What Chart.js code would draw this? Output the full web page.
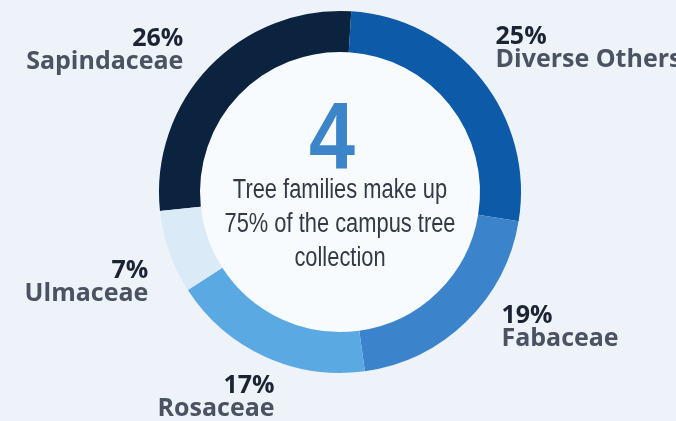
<!DOCTYPE html>
<html lang="en">
<head>
  <meta charset="UTF-8">
  <title>Campus Tree Families</title>
  <script src="https://cdn.jsdelivr.net/npm/chart.js"></script>
  <style>
    body {
      margin: 0;
      background-color: #eef3f9;
      overflow: hidden;
    }
    canvas {
      display: block;
    }
  </style>
</head>
<body>

  <canvas id="treeChart" width="676" height="421"></canvas>

  <script>
    const families = ["Sapindaceae", "Diverse Others", "Fabaceae", "Rosaceae", "Ulmaceae"];
    const shares = [26, 25, 19, 17, 7];
    const colors = ["#0c2340", "#0c5aa8", "#3b84cb", "#5aa9e2", "#dbeaf7"];

    const bigNumber = "4";
    const centerLines = ["Tree families make up", "75% of the campus tree", "collection"];

    // hand tweaks for label placement (dx, dy from the arc's outer mid point)
    const labelNudge = [[-26, -18], [14, -32], [35, 4], [10, 39], [-21, 29]];

    // draw text squeezed horizontally (no narrow font available offline)
    function narrowText(ctx, text, x, y, squeeze) {
      ctx.save();
      ctx.translate(x, y);
      ctx.scale(squeeze, 1);
      ctx.fillText(text, 0, 0);
      ctx.restore();
    }

    const innerFill = {
      id: "innerFill",
      beforeDatasetsDraw(chart) {
        const arc = chart.getDatasetMeta(0).data[0];
        if (!arc) return;
        const ctx = chart.ctx;
        ctx.save();
        ctx.beginPath();
        ctx.arc(arc.x, arc.y, arc.innerRadius, 0, Math.PI * 2);
        ctx.fillStyle = "#f8fbfe";
        ctx.fill();
        ctx.restore();
      }
    };

    const sliceLabels = {
      id: "sliceLabels",
      afterDatasetsDraw(chart) {
        const ctx = chart.ctx;
        const meta = chart.getDatasetMeta(0);
        ctx.save();
        meta.data.forEach((el, i) => {
          const p = el.getProps(["x", "y", "startAngle", "endAngle", "outerRadius"], true);
          const mid = (p.startAngle + p.endAngle) / 2;
          const nx = p.x + Math.cos(mid) * p.outerRadius + labelNudge[i][0];
          const ny = p.y + Math.sin(mid) * p.outerRadius + labelNudge[i][1];
          ctx.textAlign = Math.cos(mid) >= 0 ? "left" : "right";
          ctx.textBaseline = "alphabetic";
          ctx.font = "bold 25px 'Open Sans', sans-serif";
          ctx.fillStyle = "#1c2433";
          ctx.fillText(shares[i] + "%", nx, ny - 3);
          ctx.fillStyle = "#4b5261";
          ctx.fillText(families[i], nx, ny + 20);
        });
        ctx.restore();
      }
    };

    const centerText = {
      id: "centerText",
      afterDraw(chart) {
        const arc = chart.getDatasetMeta(0).data[0];
        if (!arc) return;
        const ctx = chart.ctx;
        ctx.save();
        ctx.textAlign = "center";
        ctx.textBaseline = "alphabetic";
        ctx.fillStyle = "#3d85c9";
        ctx.font = "bold 94px 'Liberation Sans', Arial, sans-serif";
        narrowText(ctx, bigNumber, arc.x - 8, arc.y - 24, 0.88);
        ctx.fillStyle = "#333a45";
        ctx.font = "27px 'Liberation Sans', Arial, sans-serif";
        centerLines.forEach((line, i) => {
          narrowText(ctx, line, arc.x, arc.y + 6 + i * 34, 0.81);
        });
        ctx.restore();
      }
    };

    new Chart(document.getElementById("treeChart"), {
      type: "doughnut",
      data: {
        labels: families,
        datasets: [{
          data: shares,
          backgroundColor: colors,
          borderWidth: 0
        }]
      },
      options: {
        responsive: false,
        animation: false,
        radius: 181,
        cutout: 140,
        rotation: -96,
        layout: { padding: { top: 11, bottom: 48, left: 4, right: 0 } },
        plugins: {
          legend: { display: false },
          tooltip: { enabled: false }
        }
      },
      plugins: [innerFill, sliceLabels, centerText]
    });
  </script>

</body>
</html>
